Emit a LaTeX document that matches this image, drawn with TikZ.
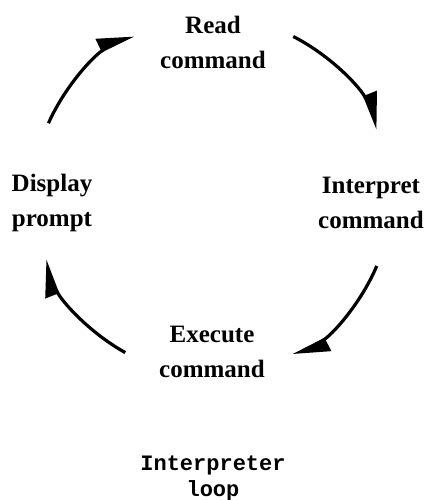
\documentclass[tikz,border=0pt]{standalone}
\usepackage{fontspec}
\setmainfont{Liberation Serif}
\setmonofont{Liberation Mono}
\usetikzlibrary{arrows.meta}

\begin{document}
\begin{tikzpicture}[x=1pt,y=1pt,
    stage/.style={align=center,inner sep=0pt,font=\bfseries\fontsize{25}{35}\selectfont},
    caption/.style={align=center,inner sep=0pt,font=\ttfamily\bfseries\fontsize{22}{26}\selectfont},
    turn/.style={line width=3.2pt,-{Triangle[harpoon,length=32pt,width=26pt]}}]
        \useasboundingbox (0,0) rectangle (425,-500);

        % stages
        \node[stage] (read) at (213,-42) {Read\\command};
        \node[stage] (interp) at (371,-203) {Interpret\\command};
        \node[stage] (exec) at (212,-352) {Execute\\command};
        \node[stage] (disp) at (52,-203) {Display\\prompt};
        \node[caption] (title) at (213,-478) {Interpreter\\loop};

        % loop arrows
        \coordinate (hub) at (212,-196);
        \draw[turn] ([shift={(156:179)}]hub) arc[start angle=156,end angle=116,radius=179];
        \draw[turn] ([shift={(63:179)}]hub) arc[start angle=63,end angle=22,radius=179];
        \draw[turn] ([shift={(-23:179)}]hub) arc[start angle=-23,end angle=-63,radius=179];
        \draw[turn] ([shift={(-119:179)}]hub) arc[start angle=-119,end angle=-159,radius=179];
    \end{tikzpicture}
\end{document}
